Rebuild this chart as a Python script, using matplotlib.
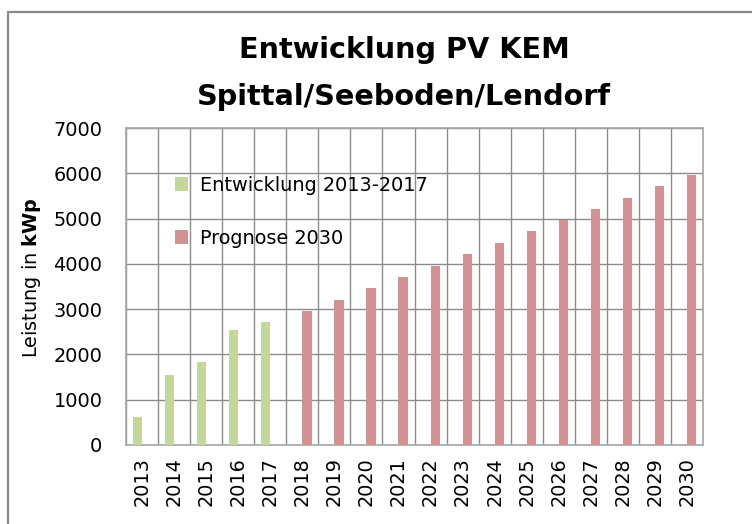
import matplotlib
matplotlib.use("Agg")
import matplotlib.pyplot as plt
from matplotlib.patches import Rectangle
import numpy as np

years = [str(y) for y in range(2013, 2031)]
hist_years = ["2013", "2014", "2015", "2016", "2017"]
hist_values = [620, 1550, 1840, 2550, 2710]
prog_years = ["2018", "2019", "2020", "2021", "2022", "2023", "2024",
              "2025", "2026", "2027", "2028", "2029", "2030"]
prog_values = [2970, 3210, 3460, 3710, 3960, 4210, 4460,
               4720, 4970, 5220, 5460, 5720, 5970]
hist_label = "Entwicklung 2013-2017"
prog_label = "Prognose 2030"
title_lines = ["Entwicklung PV KEM", "Spittal/Seeboden/Lendorf"]
yticks = [0, 1000, 2000, 3000, 4000, 5000, 6000, 7000]

plt.rcParams['font.family'] = ['DejaVu Sans']
plt.rcParams['mathtext.fontset'] = 'custom'
plt.rcParams['mathtext.bf'] = 'DejaVu Sans:bold'
plt.rcParams['mathtext.rm'] = 'DejaVu Sans'

W, H = 752, 524
fig = plt.figure(figsize=(W / 100, H / 100), dpi=100)
ax = fig.add_axes([126 / W, 1 - 445 / H, (703 - 126) / W, (445 - 128) / H])

idx = {y: i for i, y in enumerate(years)}
xh = np.array([idx[y] for y in hist_years])
xp = np.array([idx[y] for y in prog_years])
bw = 0.29
green = "#c3d69b"
red = "#d29292"
ax.bar(xh - bw / 2, hist_values, width=bw, color=green, label=hist_label, zorder=3)
ax.bar(xp + bw / 2, prog_values, width=bw, color=red, label=prog_label, zorder=3)

ax.set_xlim(-0.5, len(years) - 0.5)
ax.set_ylim(0, 7000)
ax.set_yticks(yticks)
ax.set_xticks(range(len(years)))
ax.set_xticklabels(years, rotation=90)
ax.set_xticks(np.arange(-0.5, len(years), 1.0), minor=True)
ax.tick_params(axis='both', which='both', length=0, labelsize=13.9)
ax.tick_params(axis='y', pad=17)
ax.tick_params(axis='x', pad=9)
ax.grid(True, axis='y', which='major', color='#8c8c8c', linewidth=1.0, zorder=0)
ax.grid(True, axis='x', which='minor', color='#8c8c8c', linewidth=1.0, zorder=0)
for s in ax.spines.values():
    s.set_color('#a6a6a6')
    s.set_linewidth(1.2)

fig.text(32 / W, 1 - 278 / H, r"Leistung in $\mathbf{kWp}$", rotation=90,
         ha='center', va='center', fontsize=13.9)

fig.text(404 / W, 1 - 50 / H, title_lines[0], ha='center', va='center',
         fontsize=20.7, fontweight='bold')
fig.text(404 / W, 1 - 97 / H, title_lines[1], ha='center', va='center',
         fontsize=20.7, fontweight='bold')

leg = ax.legend(loc='upper left', bbox_to_anchor=(41 / 577, 1 - 40 / 317),
                frameon=False, fontsize=13.9, handlelength=0.7, handleheight=0.7,
                handletextpad=0.6, labelspacing=1.75, borderaxespad=0)

fig.add_artist(Rectangle((8 / W, -0.1), 2.0, (1 - 12 / H) + 0.1,
                         transform=fig.transFigure, fill=False,
                         edgecolor='#8a8a8a', linewidth=1.6))

fig.savefig("out.png", dpi=100)
